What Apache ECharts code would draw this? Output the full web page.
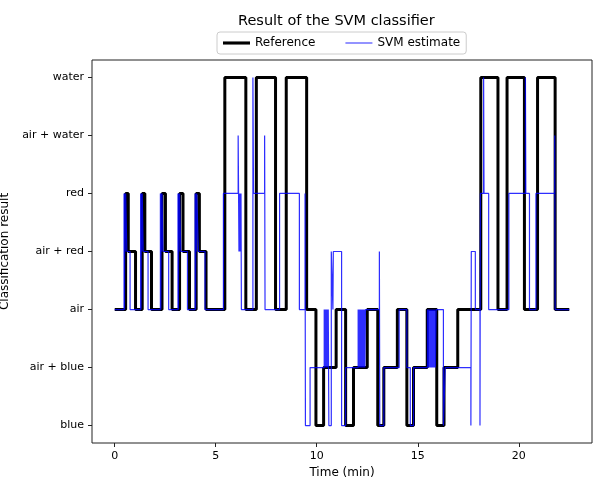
<!DOCTYPE html>
<html><head><meta charset="utf-8">
<script src="https://cdn.jsdelivr.net/npm/echarts@6/dist/echarts.min.js"></script>
<style>html,body{margin:0;padding:0;background:#fff}#c{width:594px;height:478px}</style>
</head><body><div id="c"></div>
<script>
const classLabels = ['blue', 'air + blue', 'air', 'air + red', 'red', 'air + water', 'water'];
const classTicks = [0, 1, 2, 3, 4, 5, 6];
const xTicks = [0, 5, 10, 15, 20];

// Reference: time (min) where the class changes, and the class index from then on
const refTimes = [0, 0.54, 0.67, 1.03, 1.36, 1.49, 1.82, 2.34, 2.51, 2.84, 3.21, 3.38, 3.70, 4.03, 4.19, 4.52,
  5.45, 6.49, 7.01, 7.96, 8.49, 9.50, 9.96, 10.34, 10.96, 11.43, 11.82, 12.50, 13.02, 13.32, 13.99,
  14.46, 14.79, 15.47, 15.94, 16.30, 16.98, 18.12, 18.97, 19.42, 20.28, 20.93, 21.80, 22.5];
const refStates = [2, 4, 3, 2, 4, 3, 2, 4, 3, 2, 4, 3, 2, 4, 3, 2,
  6, 2, 6, 2, 6, 2, 0, 1, 2, 0, 1, 2, 0, 1, 2,
  0, 1, 2, 0, 1, 2, 6, 2, 6, 2, 6, 2, 2];

// SVM estimate
const svmTimes = [0,
  0.46, 0.48, 0.50, 0.52, 0.54, 0.60, 0.76,
  1.28, 1.30, 1.32, 1.34, 1.36, 1.41, 1.65,
  2.26, 2.28, 2.30, 2.32, 2.34, 2.39, 2.67,
  3.13, 3.15, 3.17, 3.19, 3.21, 3.27, 3.60,
  3.98, 4.00, 4.02, 4.04, 4.06, 4.14, 4.47,
  5.38, 6.11, 6.13, 6.15, 6.17, 6.19, 6.21, 6.23, 6.25, 6.27,
  6.84, 6.87, 7.42, 7.44, 8.16, 9.14, 9.42, 9.44, 9.67,
  10.37, 10.39, 10.41, 10.43, 10.45, 10.47, 10.49, 10.51, 10.53, 10.55, 10.57, 10.60,
  10.72, 10.80, 10.82, 11.23, 11.43,
  12.05, 12.08, 12.11, 12.14, 12.17, 12.20, 12.23, 12.26, 12.29, 12.32, 12.35, 12.38, 12.41,
  13.10, 13.12, 13.32, 14.08, 14.46, 14.63, 14.79,
  15.48, 15.51, 15.54, 15.57, 15.60, 15.63, 15.66, 15.69, 15.72, 15.75, 15.78, 15.81, 15.84, 15.87, 15.91,
  16.27, 16.36, 17.63, 17.65, 17.85, 18.08, 18.10, 18.26, 18.28, 18.51,
  19.51, 20.33, 20.35, 20.53, 20.85, 21.78, 21.80, 22.5];
const svmStates = [2,
  4, 2, 4, 3, 4, 3, 2,
  4, 2, 4, 3, 4, 3, 2,
  4, 2, 4, 3, 4, 3, 2,
  4, 2, 4, 3, 4, 3, 2,
  4, 2, 4, 3, 4, 3, 2,
  4, 5, 4, 3, 4, 3, 4, 3, 4, 2,
  6, 4, 5, 2, 4, 2, 4, 0, 1,
  2, 1, 2, 1, 2, 1, 2, 1, 2, 1, 2, 0,
  3, 2, 3, 0, 1,
  2, 1, 2, 1, 2, 1, 2, 1, 2, 1, 2, 1, 2,
  3, 0, 1, 2, 1, 0, 1,
  2, 1, 2, 1, 2, 1, 2, 1, 2, 1, 2, 1, 2, 1, 2,
  0, 1, 0, 3, 2, 0, 4, 6, 4, 2,
  4, 6, 4, 2, 4, 5, 2, 2];

function stepPoints(times, states) {
  const pts = [];
  for (let i = 0; i < times.length; i++) {
    if (i > 0) pts.push([times[i], states[i - 1]]);
    pts.push([times[i], states[i]]);
  }
  return pts;
}

const FONT = 'DejaVu Sans';
const BLUE = 'rgba(0,0,255,0.82)';
const chart = echarts.init(document.getElementById('c'), null, {renderer: 'canvas'});
chart.setOption({
  animation: false,
  backgroundColor: '#fff',
  title: {
    text: 'Result of the SVM classifier',
    left: 233, top: 9,
    textStyle: {fontFamily: FONT, fontSize: 14.5, fontWeight: 'normal', color: '#000'}
  },
  legend: {
    left: 217, top: 32,
    itemWidth: 27, itemHeight: 10, itemGap: 30,
    padding: [5, 6],
    borderColor: '#ccc', borderWidth: 1, borderRadius: 3,
    symbolKeepAspect: true,
    textStyle: {fontFamily: FONT, fontSize: 12, color: '#000'},
    data: [
      {name: 'Reference', icon: 'path://M0,0H26V3H0Z', itemStyle: {color: '#000'}},
      {name: 'SVM estimate', icon: 'path://M0,0H26V1H0Z', itemStyle: {color: BLUE}}
    ]
  },
  grid: {left: 92, right: 2, top: 60, bottom: 35, show: true, borderColor: '#222', borderWidth: 1,
    outerBoundsMode: 'none', containLabel: false},
  xAxis: {
    type: 'value', min: -1.125, max: 23.625,
    name: 'Time (min)', nameLocation: 'middle', nameGap: 22,
    nameTextStyle: {fontFamily: FONT, fontSize: 12, color: '#000'},
    axisLine: {show: false, onZero: false},
    axisTick: {show: true, length: 4, lineStyle: {color: '#222'}, customValues: xTicks},
    axisLabel: {fontFamily: FONT, fontSize: 11, color: '#000', margin: 8, customValues: xTicks},
    splitLine: {show: false}
  },
  yAxis: {
    type: 'value', min: -0.3, max: 6.3,
    name: 'Classification result', nameLocation: 'middle', nameGap: 78, nameRotate: 90,
    nameTextStyle: {fontFamily: FONT, fontSize: 12, color: '#000'},
    axisLine: {show: false, onZero: false},
    axisTick: {show: true, length: 4, lineStyle: {color: '#222'}, customValues: classTicks},
    axisLabel: {fontFamily: FONT, fontSize: 11, color: '#000', margin: 8, customValues: classTicks,
      formatter: v => classLabels[Math.round(v)]},
    splitLine: {show: false}
  },
  series: [
    {name: 'Reference', type: 'line', data: stepPoints(refTimes, refStates), symbol: 'none',
      lineStyle: {color: '#000', width: 3}, itemStyle: {color: '#000'}, z: 2},
    {name: 'SVM estimate', type: 'line', data: stepPoints(svmTimes, svmStates), symbol: 'none',
      lineStyle: {color: BLUE, width: 1.2}, itemStyle: {color: BLUE}, z: 3}
  ]
});
</script></body></html>
